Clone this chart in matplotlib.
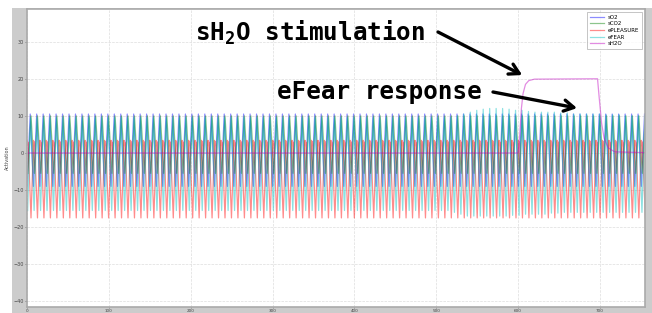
import numpy as np
import matplotlib
matplotlib.use('Agg')
import matplotlib.pyplot as plt
from matplotlib.patches import Rectangle

plt.rcParams['mathtext.fontset'] = 'custom'
plt.rcParams['mathtext.rm'] = 'DejaVu Sans Mono:bold'
plt.rcParams['mathtext.default'] = 'rm'

# ---- data ----
period = 7.9          # length of one oscillation cycle (x units)
n_cycles = 96

# one cycle of each series: (phase within cycle, value)
so2_phase = [0.0, 0.5]
so2_vals = [-9.0, 10.5]
sco2_phase = [0.15, 0.62]
sco2_vals = [-5.5, 10.0]
epleasure_phase = [0.0, 0.07, 0.12, 0.18, 0.62]
epleasure_vals = [3.4, 2.0, 3.0, 2.4, -17.5]
efear_phase = [0.1, 0.55]
efear_trough = -15.5
efear_peak = 9.5
# eFEAR peaks during / after the stimulation (cycle index -> peak, trough)
efear_stim_cycles = list(range(66, 96))
efear_stim_peaks = [10.0, 10.5, 11.0, 11.5, 11.8, 12.0, 12.0, 12.0, 11.8, 11.5,
                    11.5, 11.2, 11.0, 11.0, 11.0, 11.0, 10.8, 10.8, 10.5, 10.5,
                    10.5, 10.5, 10.5, 10.3, 10.3, 10.3, 10.0, 10.0, 10.0, 10.0]
efear_stim_troughs = [-16.0, -16.5, -17.0, -17.0, -17.0, -17.0, -17.0, -17.0, -17.0, -16.8,
                      -16.8, -16.5, -16.5, -16.5, -16.5, -16.2, -16.2, -16.0, -16.0, -16.0,
                      -16.0, -16.0, -16.0, -16.0, -16.0, -16.0, -16.0, -16.0, -16.0, -16.0]

sh2o_x = [0, 600, 602, 604, 606, 609, 613, 620, 697, 699, 702, 705, 710, 718, 755]
sh2o_y = [0.0, 0.0, 5.0, 12.0, 16.0, 18.5, 19.5, 19.9, 20.0, 15.0, 8.0, 4.0, 1.4, 0.3, 0.1]

series_names = ['sO2', 'sCO2', 'ePLEASURE', 'eFEAR', 'sH2O']
series_colors = ['b', 'g', 'r', 'c', 'm']


def build(phases, vals_per_cycle):
    xs, ys = [], []
    for k in range(n_cycles):
        for p, v in zip(phases, vals_per_cycle[k]):
            xs.append((k + p) * period)
            ys.append(v)
    return np.array(xs), np.array(ys)


so2_x, so2_y = build(so2_phase, [so2_vals] * n_cycles)
sco2_x, sco2_y = build(sco2_phase, [sco2_vals] * n_cycles)
ep_x, ep_y = build(epleasure_phase, [epleasure_vals] * n_cycles)
ef_cycles = []
for k in range(n_cycles):
    if k in efear_stim_cycles:
        i = efear_stim_cycles.index(k)
        ef_cycles.append([efear_stim_troughs[i], efear_stim_peaks[i]])
    else:
        ef_cycles.append([efear_trough, efear_peak])
ef_x, ef_y = build(efear_phase, ef_cycles)

W, H = 652, 313
fig = plt.figure(figsize=(W / 100, H / 100), dpi=100, facecolor='white')
fig.patches.append(Rectangle((12 / W, 0), 1 - 12 / W, (H - 8) / H,
                             transform=fig.transFigure, facecolor='#cccccc',
                             edgecolor='none', zorder=-10))
ax = fig.add_axes([27 / W, 6 / H, (645 - 27) / W, (307 - 9) / H])
ax.set_facecolor('white')

for (x, y), name, c in zip([(so2_x, so2_y), (sco2_x, sco2_y), (ep_x, ep_y),
                            (ef_x, ef_y), (np.array(sh2o_x), np.array(sh2o_y))],
                           series_names, series_colors):
    ax.plot(x, y, color=c, alpha=0.45, lw=0.9, label=name)

ax.set_xlim(0, 755)
ax.set_ylim(-41.5, 38.8)
ax.set_xticks(range(0, 701, 100))
ax.set_yticks(range(-40, 31, 10))
ax.tick_params(axis='y', labelsize=3.5, length=1.5, width=0.4, pad=1, colors='#444444')
ax.tick_params(axis='x', labelsize=3, length=0.8, width=0.4, pad=0.3, colors='#444444')
ax.grid(True, color='#dddddd', lw=0.5, ls='--')
for s in ax.spines.values():
    s.set_color('#aaaaaa')
    s.set_linewidth(1.2)
ax.set_ylabel('Activation', fontsize=3.5, labelpad=2, color='#444444')

leg = ax.legend(loc='upper right', fontsize=4, frameon=True, handlelength=2.5,
                borderpad=0.5, labelspacing=0.3, fancybox=False)
leg.get_frame().set_edgecolor('#aaaaaa')
leg.get_frame().set_linewidth(0.6)

fig.text(195 / W, 272 / H, 'sH$_2$O stimulation', fontsize=17.5,
         family='DejaVu Sans Mono', weight='bold', ha='left', va='baseline')
fig.text(277 / W, 214 / H, 'eFear response', fontsize=17.5,
         family='DejaVu Sans Mono', weight='bold', ha='left', va='baseline')

arrow = dict(arrowstyle='->, head_length=0.7, head_width=0.4', lw=2.4,
             color='black', shrinkA=0, shrinkB=0)
ax.annotate('', xy=(605, 21), xycoords='data', xytext=(438, 281),
            textcoords='figure pixels', arrowprops=arrow)
ax.annotate('', xy=(672, 12.1), xycoords='data', xytext=(493, 221),
            textcoords='figure pixels', arrowprops=arrow)

fig.savefig('out.png', dpi=100, facecolor=fig.get_facecolor())
